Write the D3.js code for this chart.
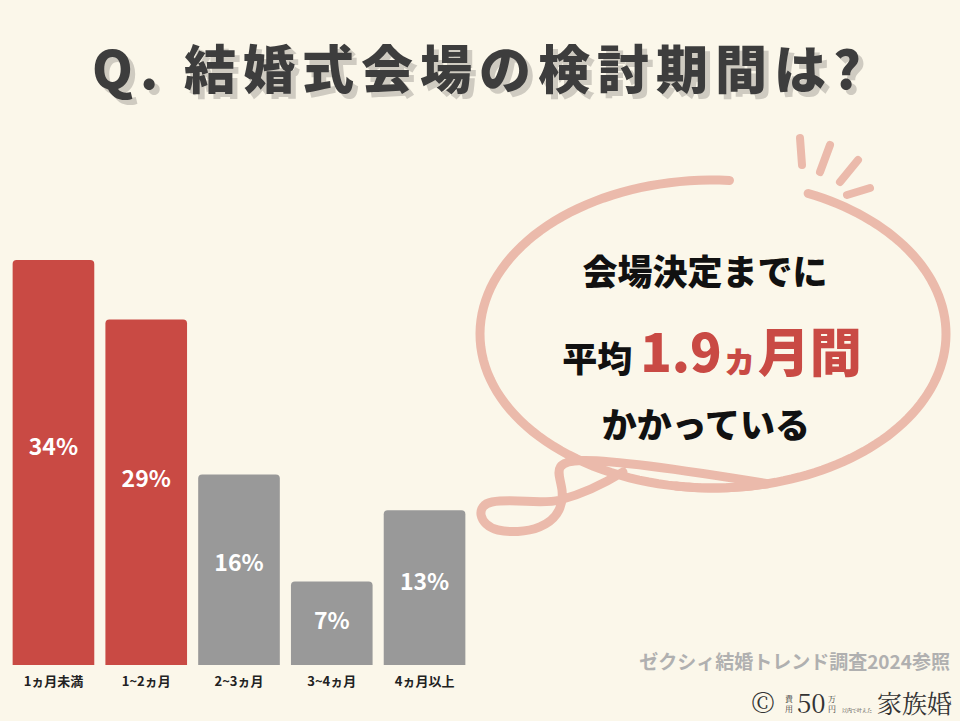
<!DOCTYPE html>
<html><head><meta charset="utf-8">
<script src="https://cdn.jsdelivr.net/npm/d3@7"></script>
<style>body{margin:0;background:#fbf7ea}svg{display:block}</style>
</head><body><div id="chart"></div>
<script>
var categories = ["1ヵ月未満", "1~2ヵ月", "2~3ヵ月", "3~4ヵ月", "4ヵ月以上"];
var values = [34, 29, 16, 7, 13];
var highlight = [true, true, false, false, false];

var W = 960, H = 721;
var font = "'Noto Sans CJK JP', 'Noto Sans', sans-serif";
var svg = d3.select("#chart").append("svg").attr("width", W).attr("height", H);
svg.append("rect").attr("width", W).attr("height", H).attr("fill", "#fbf7ea");

// title with shadow
var title = "Q. 結婚式会場の検討期間は?";
[[485, 94, "#cfcbc1"], [480, 89, "#3d3d3d"]].forEach(function(t) {
    svg.append("text").attr("x", t[0]).attr("y", t[1]).attr("text-anchor", "middle")
        .attr("font-family", font).attr("font-weight", 900).attr("font-size", 52)
        .attr("letter-spacing", 7).attr("fill", t[2]).text(title);
});

var x = d3.scaleBand().domain(categories).range([8, 470]).paddingInner(0.12).paddingOuter(0.05);
var y = d3.scaleLinear().domain([0, 34]).range([665, 260]);

var g = svg.append("g");
g.selectAll("path.bar").data(values).enter().append("path")
    .attr("fill", function(d, i) { return highlight[i] ? "#c94a44" : "#999999"; })
    .attr("d", function(d, i) {
        var x0 = x(categories[i]), w = x.bandwidth(), y0 = y(d), r = 4, b = y(0);
        return "M" + x0 + "," + b + "V" + (y0 + r) + "Q" + x0 + "," + y0 + " " + (x0 + r) + "," + y0 +
            "H" + (x0 + w - r) + "Q" + (x0 + w) + "," + y0 + " " + (x0 + w) + "," + (y0 + r) + "V" + b + "Z";
    });
g.selectAll("text.val").data(values).enter().append("text")
    .attr("x", function(d, i) { return x(categories[i]) + x.bandwidth() / 2; })
    .attr("y", function(d) { return (y(d) + y(0)) / 2 - (y(0) - y(d)) * 0.04 + 9; })
    .attr("text-anchor", "middle").attr("font-family", font).attr("font-weight", 700)
    .attr("font-size", 23).attr("fill", "#fff")
    .text(function(d) { return d + "%"; });

var axis = svg.append("g").attr("transform", "translate(0,665)")
    .call(d3.axisBottom(x).tickSize(0).tickPadding(12));
axis.select(".domain").remove();
axis.selectAll("text").attr("font-family", font).attr("font-weight", 700)
    .attr("font-size", 13).attr("fill", "#222");

// speech bubble
var pink = "#ebbaab";
var bub = svg.append("g").attr("fill", "none").attr("stroke", pink)
    .attr("stroke-width", 9).attr("stroke-linecap", "round");
var cx = 713, cy = 334, rx = 233, ry = 154;
function pt(a) { return [cx + rx * Math.cos(a), cy + ry * Math.sin(a)]; }
function arcPath(a0, a1) {
    var p = d3.path(), n = 80;
    for (var k = 0; k <= n; k++) {
        var q = pt(a0 + (a1 - a0) * k / n);
        if (k === 0) p.moveTo(q[0], q[1]); else p.lineTo(q[0], q[1]);
    }
    return p.toString();
}
bub.append("path").attr("d", arcPath(-1.15, 1.73));
var leftArc = arcPath(-1.5, -1.5 - 3.45);
bub.append("path").attr("d", leftArc + " C530,445 558,460 562,490 C566,530 520,535 498,530 C478,525 475,505 492,502 C515,498 540,505 560,500 C590,492 610,480 623,472");
var rays = [[800, 138, 802, 165], [830, 145, 820, 172], [858, 160, 840, 182], [870, 188, 847, 195]];
rays.forEach(function(r) {
    bub.append("line").attr("x1", r[0]).attr("y1", r[1]).attr("x2", r[2]).attr("y2", r[3]).attr("stroke-width", 8);
});

var tg = svg.append("g").attr("font-family", font).attr("font-weight", 900).attr("fill", "#111");
tg.append("text").attr("x", 705).attr("y", 285).attr("text-anchor", "middle").attr("font-size", 35).text("会場決定までに");
var line2 = tg.append("text").attr("x", 712).attr("y", 372).attr("text-anchor", "middle");
line2.append("tspan").attr("font-size", 35).text("平均 ");
line2.append("tspan").attr("font-size", 52).attr("fill", "#c94a44").text("1.9");
line2.append("tspan").attr("font-size", 36).attr("fill", "#c94a44").text("ヵ");
line2.append("tspan").attr("font-size", 52).attr("fill", "#c94a44").text("月間");
tg.append("text").attr("x", 706).attr("y", 438).attr("text-anchor", "middle").attr("font-size", 35).text("かかっている");

svg.append("text").attr("x", 950).attr("y", 669).attr("text-anchor", "end")
    .attr("font-family", font).attr("font-weight", 700).attr("font-size", 19)
    .attr("fill", "#b0b0b0").text("ゼクシィ結婚トレンド調査2024参照");
var logo = svg.append("g").attr("font-family", "'Noto Serif CJK JP', serif").attr("fill", "#333");
logo.append("text").attr("x", 763).attr("y", 713).attr("text-anchor", "middle").attr("font-size", 28).text("©");
logo.append("text").attr("x", 797).attr("y", 713).attr("font-size", 26).text("50");
logo.append("text").attr("x", 785).attr("y", 702).attr("font-size", 8).text("費");
logo.append("text").attr("x", 785).attr("y", 712).attr("font-size", 8).text("用");
logo.append("text").attr("x", 828).attr("y", 702).attr("font-size", 8).text("万");
logo.append("text").attr("x", 828).attr("y", 712).attr("font-size", 8).text("円");
logo.append("text").attr("x", 842).attr("y", 712).attr("font-size", 5).text("以内で叶えた");
logo.append("text").attr("x", 952).attr("y", 713).attr("text-anchor", "end").attr("font-size", 25).text("家族婚");
</script></body></html>
